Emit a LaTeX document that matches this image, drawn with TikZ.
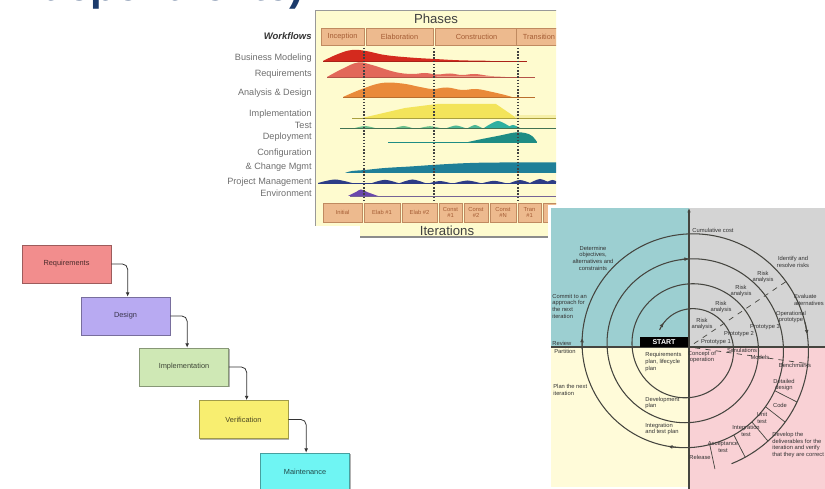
\documentclass[tikz,border=0pt]{standalone}
\usepackage{fontspec}
\setmainfont{Liberation Sans}
\usepackage{tikz}
\usetikzlibrary{arrows.meta, positioning, calc, shadows}

% title and RUP chart
\definecolor{titleblue}{HTML}{1B3A6B}
\definecolor{rupbg}{HTML}{FEFBCF}
\definecolor{phasefill}{HTML}{EDBA8E}
\definecolor{phaseline}{HTML}{C08A60}
\definecolor{phasetext}{HTML}{A45C34}
\definecolor{wfgray}{HTML}{6E6E6E}
\definecolor{bmred}{HTML}{D42A1E}
\definecolor{reqsalmon}{HTML}{E2685A}
\definecolor{adorange}{HTML}{E98A3A}
\definecolor{impyellow}{HTML}{F3E45A}
\definecolor{imppale}{HTML}{F6F0A8}
\definecolor{testgreen}{HTML}{6CC08C}
\definecolor{testteal}{HTML}{2EB0A0}
\definecolor{depteal}{HTML}{1E8C84}
\definecolor{cmteal}{HTML}{1F7F98}
\definecolor{pmnavy}{HTML}{2C3C86}
\definecolor{envpurple}{HTML}{6A48AC}
% waterfall
\definecolor{reqfill}{HTML}{F28D8D}
\definecolor{desfill}{HTML}{B8AAF2}
\definecolor{impfill}{HTML}{CFE8B5}
\definecolor{verfill}{HTML}{F8EE70}
\definecolor{mntfill}{HTML}{6FF5F3}
% spiral
\definecolor{spteal}{HTML}{9CCFD1}
\definecolor{spgray}{HTML}{D4D4D4}
\definecolor{spcream}{HTML}{FFFBD9}
\definecolor{sppink}{HTML}{F9D1D5}
\definecolor{ringcol}{HTML}{45453F}

\tikzset{
  wflabel/.style={anchor=east, text=wfgray, font=\fontsize{5.2}{6}\selectfont, inner sep=0pt},
  phasebox/.style={draw=phaseline, fill=phasefill, line width=0.4pt, text=phasetext,
                   font=\fontsize{4.2}{5}\selectfont, inner sep=0pt},
  iterbox/.style={phasebox, font=\fontsize{3.3}{3.7}\selectfont, align=center},
  milestone/.style={densely dotted, line width=0.8pt, black!75},
  stage/.style={draw=#1!65!black, fill=#1, minimum width=1.78cm, minimum height=0.76cm,
                text=#1!30!black, font=\fontsize{4.2}{5}\selectfont,
                drop shadow={shadow xshift=0.8pt, shadow yshift=-0.8pt, opacity=0.3, fill=black}},
  flow/.style={-{Latex[length=2.4pt,width=2.2pt]}, line width=0.45pt, rounded corners=3pt, black!80},
  ring/.style={draw=ringcol, line width=0.6pt},
  sptext/.style={text=black!80, font=\fontsize{3.3}{3.8}\selectfont, align=center, inner sep=0pt},
}

\begin{document}
\begin{tikzpicture}[x=0.02cm, y=-0.02cm,
  declare function={sr(\t)=35+0.0694444*(\t-225);}]
\useasboundingbox (0,0) rectangle (825,489);
\clip (0,0) rectangle (825,489);

% =============== TITLE (cut off) ===============
\node[anchor=base east, inner sep=0pt, text=titleblue,
      font=\fontsize{24}{28}\selectfont\bfseries] (title) at (316,0.5) {independiente).};

% =============== RUP HUMP CHART ===============
\begin{scope}
\clip (222,0) rectangle (556,240);
\fill[rupbg] (315,10) rectangle (560,226);
\fill[rupbg] (360,226) rectangle (560,236);
\draw[black!40, line width=0.5pt] (315,226) |- (560,10);
\draw[black!45, line width=0.6pt] (360,237) -- (560,237);
\node[font=\fontsize{7.5}{8}\selectfont, text=black!75] (phases) at (436,19) {Phases};
\node[font=\fontsize{7.5}{8}\selectfont, text=black!75] (iters) at (447,231) {Iterations};

% phases
\node[phasebox, minimum width=0.86cm, minimum height=0.34cm] (inc) at (342.5,36.5) {Inception};
\node[phasebox, minimum width=1.34cm, minimum height=0.34cm] (ela) at (399.5,36.5) {Elaboration};
\node[phasebox, minimum width=1.66cm, minimum height=0.34cm] (con) at (476.5,36.5) {Construction};
\node[phasebox, minimum width=0.90cm, minimum height=0.34cm] (tra) at (539,36.5) {Transition};

% iterations
\foreach \n/\cx/\w/\t in {it0/342.5/0.78/Initial, it1/382/0.72/Elab \#1, it2/419.5/0.70/Elab \#2,
    it3/450.5/0.46/Const\\\#1, it4/476/0.48/Const\\\#2, it5/503/0.52/Const\\\#N,
    it6/529.5/0.46/Tran\\\#1, it7/554.5/0.46/Tran\\\#2}{
  \node[iterbox, minimum width=\w cm, minimum height=0.38cm] (\n) at (\cx,212.5) {\t};
}

% workflow labels
\node[wflabel, font=\fontsize{5.4}{6}\selectfont\bfseries\itshape, text=black!80] (wf) at (312,36) {Workflows};
\node[wflabel] (l-bm) at (312,58) {Business Modeling};
\node[wflabel] (l-req) at (312,74) {Requirements};
\node[wflabel] (l-ad) at (312,93) {Analysis \& Design};
\node[wflabel] (l-imp) at (312,114) {Implementation};
\node[wflabel] (l-test) at (312,125) {Test};
\node[wflabel] (l-dep) at (312,137) {Deployment};
\node[wflabel] (l-cfg) at (312,153) {Configuration};
\node[wflabel] (l-chg) at (312,167) {\& Change Mgmt};
\node[wflabel] (l-pm) at (312,182) {Project Management};
\node[wflabel] (l-env) at (312,193) {Environment};

% business modeling
\draw[bmred!80!black, line width=0.5pt] (323,61) -- (527,61);
\fill[bmred] plot[smooth, tension=0.7] coordinates {(323,61) (338,54) (352,50) (366,51) (385,55)
    (410,57.5) (435,59) (460,60.3) (490,60.8)} -- cycle;
% requirements
\draw[reqsalmon!80!black, line width=0.5pt] (327,77) -- (535,77);
\fill[reqsalmon] plot[smooth, tension=0.7] coordinates {(327,77) (342,69) (358,62.5) (372,65) (395,72)
    (412,74) (425,73) (437,74.5) (450,73.5) (462,75) (475,74) (490,76) (505,76.6)} -- cycle;
% analysis & design
\draw[adorange!80!black, line width=0.5pt] (343,97) -- (535,97);
\fill[adorange] plot[smooth, tension=0.7] coordinates {(343,97) (362,89) (382,83) (402,83.5) (420,87)
    (433,89) (447,87.5) (462,90) (476,89) (490,91.5) (505,95) (512,97)} -- cycle;
% implementation
\draw[impyellow!70!black, line width=0.5pt] (352,118) -- (556,118);
\fill[imppale] (515,115) rectangle (556,118);
\fill[impyellow] (362,118) -- (405,108) -- (437,104) -- (496,104) -- (515,117) -- (515,118) -- cycle;
% test
\draw[testgreen!60!black, line width=0.5pt] (340,128) -- (556,128);
\foreach \a/\b/\h/\c in {355/375/2/testgreen, 395/412/2/testgreen, 420/440/1.8/testgreen,
    447/465/2.5/testgreen!50!testteal, 468/482/3/testgreen!50!testteal, 484/512/7/testteal, 506/520/3/testteal}{
  \fill[\c] plot[smooth] coordinates {(\a,128) ({(\a+\b)/2},{128-\h}) (\b,128)} -- cycle;
}
% deployment
\draw[depteal, line width=0.5pt] (388,142) -- (537,142);
\fill[depteal] plot[smooth, tension=0.7] coordinates {(468,142) (482,139) (500,135.5) (515,132.5)
    (525,133) (532,136) (537,142)} -- cycle;
% configuration & change mgmt
\fill[cmteal] plot[smooth, tension=0.7] coordinates {(345,173) (352,171) (365,170) (385,168) (410,166.5)
    (440,164.5) (470,163) (500,162.5) (530,162.5) (556,162.5)} -- (556,173) -- cycle;
% project management
\draw[pmnavy, line width=0.5pt] (318,183) -- (556,183);
\foreach \a/\b/\h in {318/352/3.5, 372/398/3.2, 400/425/3.5, 430/450/2, 455/480/2.5,
    483/505/2.2, 510/530/3, 530/550/4, 545/560/3}{
  \fill[pmnavy] plot[smooth] coordinates {(\a,183) ({(\a+\b)/2},{183-\h}) (\b,183)} -- cycle;
}
% environment
\draw[envpurple!50!gray, line width=0.5pt] (350,196) -- (556,196);
\fill[envpurple] plot[smooth, tension=0.7] coordinates {(348,196) (356,192) (361,189.5) (367,192) (378,196)} -- cycle;

% milestones
\foreach \x in {364,434,518}{
  \draw[milestone] (\x,48) -- (\x,201);
}
\end{scope}

% =============== WATERFALL ===============
\node[stage=reqfill] (req) at (66.5,264) {Requirements};
\node[stage=desfill] (des) at (125.5,316) {Design};
\node[stage=impfill] (imp) at (184,367) {Implementation};
\node[stage=verfill] (ver) at (243.5,419.5) {Verification};
\node[stage=mntfill] (mnt) at (305,472) {Maintenance};
\draw[flow] (req.east) -| ([xshift=0.94cm]des.north west);
\draw[flow] (des.east) -| ([xshift=0.96cm]imp.north west);
\draw[flow] (imp.east) -| ([xshift=0.96cm]ver.north west);
\draw[flow] (ver.east) -| ([xshift=0.92cm]mnt.north west);

% =============== SPIRAL MODEL ===============
\fill[white] (548,205) rectangle (825,489);
\fill[spteal] (551,208) rectangle (689,347);
\fill[spgray] (689,208) rectangle (825,347);
\fill[spcream] (551,347) rectangle (689,487);
\fill[sppink] (689,347) rectangle (825,489);
\coordinate (ctr) at (689,347);
\coordinate (axtop) at (689,208);
\coordinate (axbot) at (689,489);
\coordinate (axl) at (551,347);
\coordinate (axr) at (825,347);
\draw[ring] (axl) -- (axr);
\draw[ring, -{Latex[length=2.5pt,width=2pt]}] (axbot) -- (axtop);

% spiral
\draw[ring] plot[domain=222:1510, samples=500, variable=\t] ({689+sr(\t)*cos(\t)}, {347+sr(\t)*sin(\t)});
\draw[ring, -{Latex[length=2.6pt,width=2.2pt]}] plot[domain=210:224, samples=10, variable=\t]
    ({689+sr(\t)*cos(\t)}, {347+sr(\t)*sin(\t)});
\foreach \a/\b in {984/990, 1176/1182, 1259/1265, 1428/1434}{
  \draw[ring, -{Latex[length=2.6pt,width=2.2pt]}] plot[domain=\a:\b, samples=6, variable=\t]
    ({689+sr(\t)*cos(\t)}, {347+sr(\t)*sin(\t)});
}
\draw[ring, dashed, line width=0.4pt] ($(ctr)+(326:6)$) -- ($(ctr)+(326:118)$);
\draw[ring, dashed, line width=0.4pt] ($(ctr)+(8:6)$) -- ($(ctr)+(8:122)$);
\foreach \a in {27,38,50,63,78}{
  \draw[ring, line width=0.4pt] ($(ctr)+(\a:{sr(\a+1080)})$) -- ($(ctr)+(\a:{sr(\a+1440)})$);
}

\node[fill=black, text=white, font=\fontsize{4}{4.5}\selectfont\bfseries, minimum width=0.96cm,
      minimum height=0.2cm, inner sep=0pt] (start) at (664,342) {START};

\node[sptext] (s-obj) at (593,258) {Determine\\objectives,\\alternatives and\\constraints};
\node[sptext, anchor=west, align=left] (s-commit) at (552,306) {Commit to an\\approach for\\the next\\iteration};
\node[sptext, anchor=south west] (s-review) at (552,345.5) {Review};
\node[sptext, anchor=north west] (s-part) at (554,348.5) {Partition};
\node[sptext, anchor=west, align=left] (s-plan) at (553,390) {Plan the next\\iteration};
\node[sptext, anchor=west, align=left] (s-reqp) at (645,362) {Requirements\\plan, lifecycle\\plan};
\node[sptext, anchor=west, align=left] (s-devp) at (645,403) {Development\\plan};
\node[sptext, anchor=west, align=left] (s-intp) at (645,429) {Integration\\and test plan};
\node[sptext, anchor=west] (s-cost) at (692,230) {Cumulative cost};
\node[sptext] (s-risk) at (793,262) {Identify and\\resolve risks};
\node[sptext, anchor=east, align=left] (s-eval) at (824,300) {Evaluate\\alternatives};
\node[sptext] (s-ra4) at (763,277) {Risk\\analysis};
\node[sptext] (s-ra3) at (741,291) {Risk\\analysis};
\node[sptext] (s-ra2) at (721,307) {Risk\\analysis};
\node[sptext] (s-ra1) at (702,324) {Risk\\analysis};
\node[sptext] (s-opp) at (791,317) {Operational\\prototype};
\node[sptext] (s-p3) at (765,327) {Prototype 3};
\node[sptext] (s-p2) at (739,334) {Prototype 2};
\node[sptext] (s-p1) at (716,342) {Prototype 1};
\node[sptext] (s-conc) at (702,357) {Concept of\\operation};
\node[sptext] (s-sim) at (742,350) {Simulations};
\node[sptext] (s-mod) at (760,357) {Models};
\node[sptext] (s-bench) at (795,365) {Benchmarks};
\node[sptext] (s-dd) at (784,385) {Detailed\\design};
\node[sptext] (s-code) at (780,405) {Code};
\node[sptext] (s-unit) at (762,418) {Unit\\test};
\node[sptext] (s-itest) at (746,431) {Integration\\test};
\node[sptext] (s-atest) at (723,447) {Acceptance\\test};
\node[sptext] (s-rel) at (700,457) {Release};
\node[sptext, anchor=west, align=left] (s-dev) at (772,445) {Develop the\\deliverables for the\\iteration and verify\\that they are correct};

\end{tikzpicture}
\end{document}
